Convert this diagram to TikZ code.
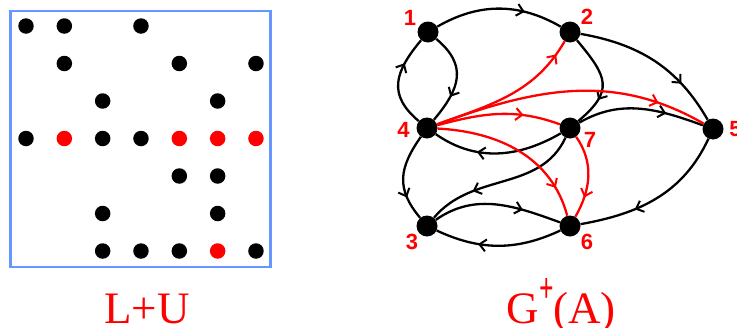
\documentclass[tikz,border=0pt]{standalone}
\usepackage{fontspec}
\usepackage{graphicx}
\setmainfont{Liberation Serif}
\newfontfamily\labfont{Liberation Sans}
\usetikzlibrary{arrows.meta,decorations.markings}
\definecolor{boxblue}{RGB}{102,150,255}
\begin{document}
\begin{tikzpicture}[x=1pt,y=-1pt,
  vtx/.style={circle,fill=black,inner sep=0pt,minimum size=21pt},
  mdot/.style={circle,inner sep=0pt,minimum size=15.5pt,fill=#1},
  mdot/.default=black,
  lab/.style={text=red,font=\labfont\bfseries\fontsize{22}{22}\selectfont,inner sep=0pt},
  blk/.style={draw=black,line width=2.3pt},
  rd/.style={draw=red,line width=2.3pt},
  midarrow/.style={postaction={decorate,decoration={markings,
     mark=at position #1 with {\arrow{Straight Barb[length=6.5pt,width=12pt,line width=2pt]}}}}},
  midarrow/.default=0.7]
\useasboundingbox (0,0) rectangle (737,327);
% matrix box
\node[draw=boxblue,line width=2.6pt,minimum width=260pt,minimum height=256pt,inner sep=0pt] (box) at (140.3,139) {};
% matrix dots
\foreach \r/\c/\col in {1/1/black,1/2/black,1/4/black,
  2/2/black,2/5/black,2/7/black,
  3/3/black,3/6/black,
  4/1/black,4/2/red,4/3/black,4/4/black,4/5/red,4/6/red,4/7/red,
  5/5/black,5/6/black,
  6/3/black,6/6/black,
  7/3/black,7/4/black,7/5/black,7/6/red,7/7/black}
  \node[mdot=\col] (m\r\c) at ({26+38.33*(\c-1)},{26+37.5*(\r-1)}) {};
% graph vertices
\node[vtx] (n1) at (428,32) {};
\node[vtx] (n2) at (570,32) {};
\node[vtx] (n4) at (427,128) {};
\node[vtx] (n7) at (570,128) {};
\node[vtx] (n5) at (713,129) {};
\node[vtx] (n3) at (427,226) {};
\node[vtx] (n6) at (570,226) {};
% labels
\node[lab] (l1) at (410,18) {1};
\node[lab] (l2) at (587,17) {2};
\node[lab] (l4) at (403.5,129.5) {4};
\node[lab] (l7) at (590,140) {7};
\node[lab] (l5) at (735.5,129.5) {5};
\node[lab] (l3) at (412,242) {3};
\node[lab] (l6) at (587,242) {6};
% black edges
\draw[blk,midarrow] (n1) to[bend left=30] (n2);
\draw[blk,midarrow] (n4) to[out=140,in=230,looseness=1.3] (n1);
\draw[blk,midarrow] (n1) to[out=-40,in=50,looseness=1.3] (n4);
\draw[blk,midarrow=0.72] (n2) to[out=-10,in=120] (n5);
\draw[blk,midarrow] (n2) to[out=-50,in=40,looseness=1.5] (n7);
\draw[blk,midarrow] (n7) to[out=30,in=160] (n5);
\draw[blk,midarrow=0.65] (n5) to[out=-115,in=10] (n6);
\draw[blk,midarrow=0.66] (n7) to[out=-150,in=-35] (n4);
\draw[blk,midarrow] (n7) to[out=-115,in=50] (n3);
\draw[blk,midarrow=0.73] (n4) to[out=-125,in=130,looseness=1.2] (n3);
\draw[blk,midarrow] (n3) to[out=35,in=160] (n6);
\draw[blk,midarrow=0.66] (n6) to[out=-155,in=-25] (n3);
% red edges
\draw[rd,midarrow=0.9] (n4) to[out=20,in=-120] (n2);
\draw[rd,midarrow=0.82] (n4) to[out=20,in=150] (n5);
\draw[rd,midarrow=0.7] (n4) to[out=15,in=160] (n7);
\draw[rd,midarrow=0.82] (n4) to[out=-3,in=105] (n6);
\draw[rd,midarrow=0.75] (n7) to[out=-55,in=60] (n6);
% captions
\node[text=red,font=\fontsize{45}{45}\selectfont,anchor=base,inner sep=0pt] (t1) at (147,323) {L+U};
\node[text=red,font=\fontsize{45}{45}\selectfont,anchor=base,inner sep=0pt] (t2) at (561,323)
  {G\kern1pt\raisebox{21pt}{\fontsize{34}{34}\selectfont\bfseries\scalebox{0.75}[1.25]{+}}\kern-1pt(A)};
\end{tikzpicture}
\end{document}
